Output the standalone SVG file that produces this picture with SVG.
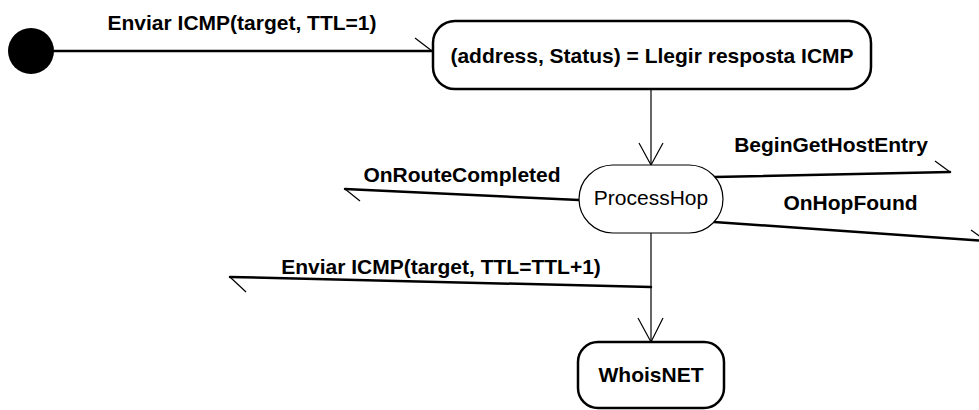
<svg xmlns="http://www.w3.org/2000/svg" width="979" height="410" viewBox="0 0 979 410">
<style>
.bg{fill:#fff}
.state{fill:#fff;stroke:#000;stroke-width:2.5}
.thinstate{fill:#fff;stroke:#000;stroke-width:1.2}
.thick{fill:none;stroke:#000;stroke-width:2.5;stroke-linecap:round}
.thin{fill:none;stroke:#000;stroke-width:1.2}
.barb{fill:none;stroke:#000;stroke-width:1.2}
text{font-family:"Liberation Sans",Arial,sans-serif;font-size:21px;fill:#000;text-anchor:middle}
.b{font-weight:bold}
</style>
<rect class="bg" x="0" y="0" width="979" height="410"/>
<g id="connectors">
  <path class="thick" d="M54,51 L432,51"/>
  <path class="barb" d="M415,38 L432,51"/>
  <text class="b" x="242" y="29.5">Enviar ICMP(target, TTL=1)</text>

  <path class="thin" d="M651,89 L651,165"/>
  <path class="barb" d="M639,143 L651,165 L663,143"/>

  <path class="thick" d="M579,200 L345,189"/>
  <path class="barb" d="M345,189 L360,201"/>
  <text class="b" x="462" y="182">OnRouteCompleted</text>

  <path class="thick" d="M714,177 L950,172"/>
  <path class="barb" d="M935,161 L950,172"/>
  <text class="b" x="831" y="152">BeginGetHostEntry</text>

  <path class="thick" d="M714,222 L986,241"/>
  <path class="barb" d="M971,230 L986,241"/>
  <text class="b" x="850.5" y="210">OnHopFound</text>

  <path class="thick" d="M651,287 L230,277"/>
  <path class="barb" d="M230,277 L246,292"/>
  <text class="b" x="441" y="274">Enviar ICMP(target, TTL=TTL+1)</text>

  <path class="thin" d="M651,233 L651,342"/>
  <path class="barb" d="M638,318 L651,342 L663,318"/>
</g>
<g id="start">
  <circle cx="31" cy="51" r="23" fill="#000"/>
</g>
<g id="llegir">
  <rect class="state" x="433" y="21" width="438" height="68" rx="22" ry="22"/>
  <text class="b" x="652" y="62.5">(address, Status) = Llegir resposta ICMP</text>
</g>
<g id="processhop">
  <rect class="thinstate" x="579" y="165" width="144" height="68" rx="34" ry="34"/>
  <text x="651" y="205">ProcessHop</text>
</g>
<g id="whoisnet">
  <rect class="state" x="578" y="342" width="146" height="66" rx="20" ry="20"/>
  <text class="b" x="651" y="382">WhoisNET</text>
</g>
</svg>
